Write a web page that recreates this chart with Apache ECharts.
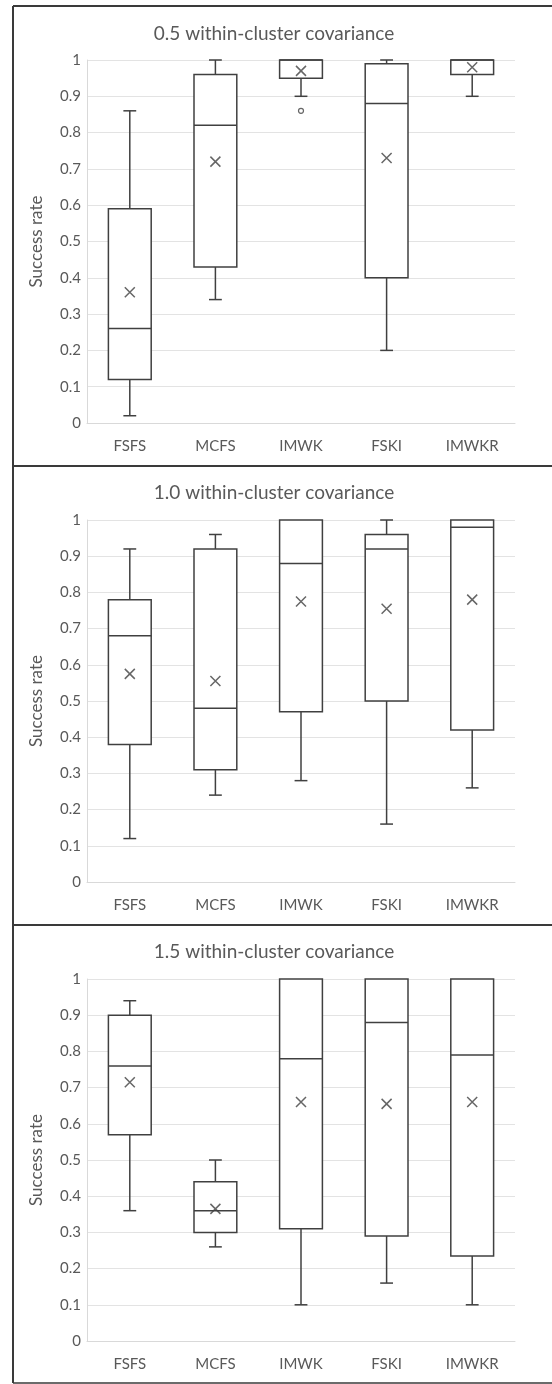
<!DOCTYPE html>
<html>
<head>
<meta charset="utf-8">
<script src="https://cdn.jsdelivr.net/npm/echarts@6/dist/echarts.min.js"></script>
<style>html,body{margin:0;padding:0;background:#fff}#c{width:552px;height:1384px}</style>
</head>
<body>
<div id="c"></div>
<script>
const categories = ['FSFS', 'MCFS', 'IMWK', 'FSKI', 'IMWKR'];
const titles = ['0.5 within-cluster covariance', '1.0 within-cluster covariance', '1.5 within-cluster covariance'];
const yTicks = [0, 0.1, 0.2, 0.3, 0.4, 0.5, 0.6, 0.7, 0.8, 0.9, 1];

// [min, Q1, median, Q3, max] per category
const box05 = [
  [0.02, 0.12, 0.26, 0.59, 0.86],
  [0.34, 0.43, 0.82, 0.96, 1.00],
  [0.90, 0.95, 1.00, 1.00, 1.00],
  [0.20, 0.40, 0.88, 0.99, 1.00],
  [0.90, 0.96, 1.00, 1.00, 1.00]
];
const mean05 = [0.36, 0.72, 0.97, 0.73, 0.98];
const outliers05 = [[2, 0.86]];

const box10 = [
  [0.12, 0.38, 0.68, 0.78, 0.92],
  [0.24, 0.31, 0.48, 0.92, 0.96],
  [0.28, 0.47, 0.88, 1.00, 1.00],
  [0.16, 0.50, 0.92, 0.96, 1.00],
  [0.26, 0.42, 0.98, 1.00, 1.00]
];
const mean10 = [0.575, 0.555, 0.775, 0.755, 0.78];
const outliers10 = [];

const box15 = [
  [0.36, 0.57, 0.76, 0.90, 0.94],
  [0.26, 0.30, 0.36, 0.44, 0.50],
  [0.10, 0.31, 0.78, 1.00, 1.00],
  [0.16, 0.29, 0.88, 1.00, 1.00],
  [0.10, 0.235, 0.79, 1.00, 1.00]
];
const mean15 = [0.715, 0.365, 0.66, 0.655, 0.66];
const outliers15 = [];

const panels = [
  {box: box05, mean: mean05, out: outliers05, top: 60, height: 363, titleY: 31},
  {box: box10, mean: mean10, out: outliers10, top: 520, height: 362, titleY: 490},
  {box: box15, mean: mean15, out: outliers15, top: 979, height: 362, titleY: 949}
];

const dark = '#404040';
const gray = '#595959';
const font = 'Lato, "Open Sans", sans-serif';

function renderBox(params, api) {
  const x = api.value(0);
  const mn = api.value(1), q1 = api.value(2), md = api.value(3), q3 = api.value(4), mx = api.value(5);
  const band = api.size([1, 0])[0];
  const bw = band * 0.5;
  const cw = band * 0.15;
  const pMin = api.coord([x, mn]), pQ1 = api.coord([x, q1]), pMd = api.coord([x, md]), pQ3 = api.coord([x, q3]), pMx = api.coord([x, mx]);
  const cx = pMin[0];
  const st = {stroke: dark, lineWidth: 1.5, fill: null};
  const children = [];
  if (pMx[1] < pQ3[1] - 0.5) {
    children.push({type: 'line', shape: {x1: cx, y1: pMx[1], x2: cx, y2: pQ3[1]}, style: st});
    children.push({type: 'line', shape: {x1: cx - cw / 2, y1: pMx[1], x2: cx + cw / 2, y2: pMx[1]}, style: st});
  }
  if (pMin[1] > pQ1[1] + 0.5) {
    children.push({type: 'line', shape: {x1: cx, y1: pQ1[1], x2: cx, y2: pMin[1]}, style: st});
    children.push({type: 'line', shape: {x1: cx - cw / 2, y1: pMin[1], x2: cx + cw / 2, y2: pMin[1]}, style: st});
  }
  children.push({type: 'rect', shape: {x: cx - bw / 2, y: pQ3[1], width: bw, height: pQ1[1] - pQ3[1]}, style: {stroke: dark, lineWidth: 1.5, fill: '#fff'}});
  children.push({type: 'line', shape: {x1: cx - bw / 2, y1: pMd[1], x2: cx + bw / 2, y2: pMd[1]}, style: st});
  return {type: 'group', children: children};
}

const grid = [], xAxis = [], yAxis = [], series = [], title = [];
panels.forEach((p, i) => {
  grid.push({left: 87, width: 428, top: p.top, height: p.height, containLabel: false});
  title.push({text: titles[i], left: 269, top: p.titleY - 12, textAlign: 'center',
    textStyle: {fontFamily: font, fontSize: 19, fontWeight: 'normal', color: gray}});
  xAxis.push({type: 'category', gridIndex: i, data: categories,
    axisLine: {lineStyle: {color: '#d9d9d9', width: 1}}, axisTick: {show: false},
    axisLabel: {color: gray, fontFamily: font, fontSize: 15, margin: 16}});
  yAxis.push({type: 'value', gridIndex: i, min: 0, max: 1, interval: 0.1,
    name: 'Success rate', nameLocation: 'middle', nameGap: 42,
    nameTextStyle: {color: gray, fontFamily: font, fontSize: 17},
    axisLine: {show: true, lineStyle: {color: '#d9d9d9', width: 1}}, axisTick: {show: false},
    splitLine: {lineStyle: {color: '#e3e3e3', width: 1}},
    axisLabel: {color: gray, fontFamily: font, fontSize: 15, margin: 6,
      formatter: v => String(yTicks.find(t => Math.abs(t - v) < 1e-9) ?? v)}});
  series.push({type: 'custom', xAxisIndex: i, yAxisIndex: i, renderItem: renderBox,
    encode: {x: 0, y: [1, 2, 3, 4, 5]},
    data: p.box.map((b, k) => [k].concat(b)), z: 2});
  series.push({type: 'scatter', xAxisIndex: i, yAxisIndex: i, z: 3,
    symbol: 'path://M0,0L10,10M10,0L0,10', symbolSize: 10,
    itemStyle: {color: 'none', borderColor: dark, borderWidth: 1.5},
    data: p.mean.map((m, k) => [k, m])});
  if (p.out.length) {
    series.push({type: 'scatter', xAxisIndex: i, yAxisIndex: i, z: 3,
      symbol: 'circle', symbolSize: 5,
      itemStyle: {color: '#fff', borderColor: dark, borderWidth: 1.2},
      data: p.out});
  }
});

const chart = echarts.init(document.getElementById('c'), null, {renderer: 'canvas'});
chart.setOption({
  animation: false,
  backgroundColor: '#fff',
  title: title,
  grid: grid, xAxis: xAxis, yAxis: yAxis, series: series,
  graphic: [
    {type: 'line', shape: {x1: 13, y1: 6, x2: 13, y2: 1383}, style: {stroke: '#3a3a3a', lineWidth: 2}},
    {type: 'line', shape: {x1: 13, y1: 6, x2: 552, y2: 6}, style: {stroke: '#3a3a3a', lineWidth: 2}},
    {type: 'line', shape: {x1: 13, y1: 466, x2: 552, y2: 466}, style: {stroke: '#3a3a3a', lineWidth: 2}},
    {type: 'line', shape: {x1: 13, y1: 925, x2: 552, y2: 925}, style: {stroke: '#3a3a3a', lineWidth: 2}},
    {type: 'line', shape: {x1: 13, y1: 1383, x2: 552, y2: 1383}, style: {stroke: '#3a3a3a', lineWidth: 1.5}}
  ]
});
</script>
</body>
</html>
